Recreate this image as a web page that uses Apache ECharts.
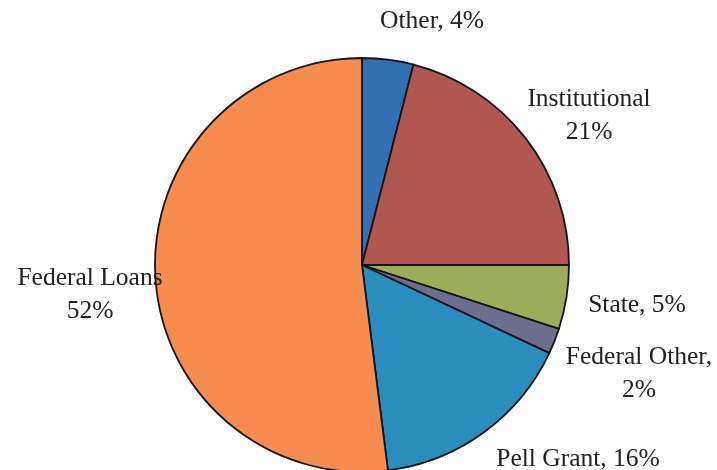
<!DOCTYPE html>
<html>
<head>
<meta charset="utf-8">
<script src="https://cdn.jsdelivr.net/npm/echarts@6/dist/echarts.min.js"></script>
<style>html,body{margin:0;padding:0;background:#fff;}#c{width:717px;height:470px;}</style>
</head>
<body>
<div id="c"></div>
<script>
var categories = ['Other', 'Institutional', 'State', 'Federal Other', 'Pell Grant', 'Federal Loans'];
var values = [4, 21, 5, 2, 16, 52];
var separators = [', ', '\n', ', ', ',\n', ', ', '\n'];
var colors = ['#3170b2', '#b05850', '#9dac58', '#6d6d8e', '#2a8dbd', '#f68c50'];
var labelPos = [[432, 21], [589, 116], [637, 305], [639, 374], [578, 459], [90, 295]];

var chart = echarts.init(document.getElementById('c'), null, {renderer: 'canvas'});
chart.setOption({
  backgroundColor: '#ffffff',
  animation: false,
  series: [{
    type: 'pie',
    center: [362, 265],
    radius: 207,
    startAngle: 90,
    clockwise: true,
    avoidLabelOverlap: false,
    data: categories.map(function (n, i) {
      return {name: n, value: values[i], itemStyle: {color: colors[i]}};
    }),
    itemStyle: {borderColor: '#151515', borderWidth: 1.8},
    label: {
      show: true,
      position: 'outside',
      fontFamily: 'Liberation Serif',
      fontSize: 25.5,
      color: '#222',
      lineHeight: 33,
      align: 'center',
      formatter: function (p) { return p.name + separators[p.dataIndex] + p.value + '%'; }
    },
    labelLine: {show: false},
    labelLayout: function (p) {
      var pos = labelPos[p.dataIndex];
      return {x: pos[0], y: pos[1], align: 'center', verticalAlign: 'middle'};
    },
    emphasis: {disabled: true}
  }]
});
</script>
</body>
</html>
